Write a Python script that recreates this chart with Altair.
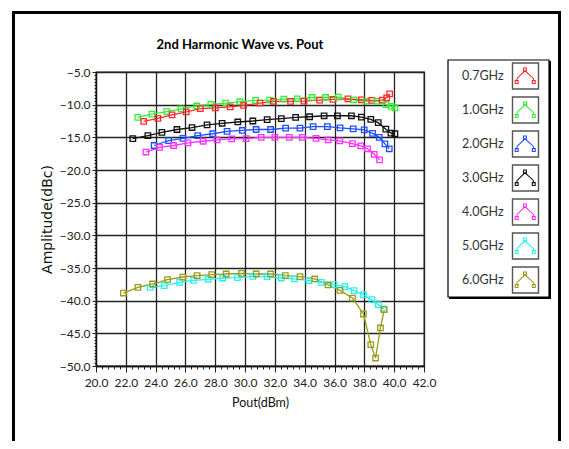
import altair as alt
import pandas as pd

series = ["0.7GHz", "1.0GHz", "2.0GHz", "3.0GHz", "4.0GHz", "5.0GHz", "6.0GHz"]
colors = ["#ff2a2a", "#33ee33", "#1f4fff", "#111111", "#ff30ff", "#22f2f2", "#9a9a1c"]
chart_title = "2nd Harmonic Wave vs. Pout"

x_07 = [23.2, 24.15, 25.1, 26.05, 27.0, 28.0, 29.0, 29.9, 31.0, 31.9, 33.05, 33.95, 35.0, 35.9, 36.9, 37.8, 38.5, 39.2, 39.5, 39.7]
y_07 = [-12.55, -12.1, -11.55, -11.1, -10.6, -10.5, -10.35, -10.1, -9.75, -9.5, -9.5, -9.45, -9.3, -9.2, -9.1, -9.25, -9.35, -9.3, -8.95, -8.35]

x_10 = [22.8, 23.75, 24.75, 25.7, 26.75, 27.7, 28.7, 29.65, 30.7, 31.65, 32.6, 33.5, 34.5, 35.4, 36.25, 37.3, 38.15, 38.85, 39.45, 39.8, 40.05]
y_10 = [-11.95, -11.45, -11.05, -10.65, -10.2, -9.95, -9.75, -9.55, -9.35, -9.3, -9.15, -9.1, -8.9, -8.9, -8.85, -9.25, -9.45, -9.45, -10.0, -10.25, -10.5]

x_20 = [23.9, 24.87, 25.83, 26.82, 27.83, 28.79, 29.82, 30.74, 31.71, 32.72, 33.68, 34.56, 35.52, 36.37, 37.25, 37.99, 38.55, 39.0, 39.38, 39.67]
y_20 = [-16.25, -15.5, -15.15, -14.75, -14.45, -14.1, -13.95, -13.8, -13.8, -13.6, -13.6, -13.35, -13.35, -13.55, -13.7, -13.85, -14.4, -15.0, -16.0, -16.75]

x_30 = [22.47, 23.48, 24.42, 25.43, 26.44, 27.45, 28.46, 29.51, 30.52, 31.48, 32.43, 33.39, 34.33, 35.3, 36.19, 37.13, 37.8, 38.43, 38.93, 39.44, 39.78, 40.05]
y_30 = [-15.2, -14.75, -14.25, -13.8, -13.5, -13.1, -12.85, -12.65, -12.5, -12.3, -12.15, -11.95, -11.85, -11.7, -11.7, -11.7, -11.9, -12.25, -12.75, -13.75, -14.35, -14.45]

x_40 = [23.35, 24.26, 25.2, 26.17, 27.18, 28.12, 29.1, 30.07, 31.08, 32.0, 32.96, 33.84, 34.76, 35.57, 36.35, 37.2, 37.76, 38.21, 38.66, 39.02]
y_40 = [-17.25, -16.55, -16.25, -15.85, -15.6, -15.4, -15.25, -15.2, -15.0, -15.0, -15.0, -15.0, -15.15, -15.4, -15.55, -15.95, -16.3, -16.75, -17.6, -18.45]

x_50 = [23.64, 24.58, 25.61, 26.55, 27.52, 28.5, 29.49, 30.52, 31.48, 32.43, 33.32, 34.29, 35.12, 35.97, 36.69, 37.31, 37.94, 38.5, 38.93, 39.29]
y_50 = [-37.96, -37.7, -37.19, -36.89, -36.73, -36.53, -36.48, -36.28, -36.33, -36.53, -36.68, -36.94, -37.19, -37.55, -37.86, -38.47, -39.13, -39.85, -40.61, -41.28]

x_60 = [21.84, 22.81, 23.79, 24.8, 25.83, 26.78, 27.76, 28.73, 29.76, 30.74, 31.71, 32.7, 33.68, 34.67, 35.56, 36.37, 37.2, 37.94, 38.43, 38.75, 39.08, 39.33]
y_60 = [-38.83, -37.96, -37.45, -36.79, -36.38, -36.17, -36.02, -35.92, -35.82, -35.92, -35.92, -36.17, -36.33, -36.68, -37.6, -38.42, -39.6, -42.04, -46.73, -48.78, -44.18, -41.38]

x_ticks = [round(20 + 0.4 * i, 1) for i in range(56)]
y_ticks = [round(-5 - 0.5 * i, 1) for i in range(91)]

# draw order (bottom to top)
draw = [("6.0GHz", x_60, y_60), ("5.0GHz", x_50, y_50), ("4.0GHz", x_40, y_40),
        ("2.0GHz", x_20, y_20), ("3.0GHz", x_30, y_30), ("1.0GHz", x_10, y_10),
        ("0.7GHz", x_07, y_07)]
rows = []
for k, (name, xs, ys) in enumerate(draw):
    for i, (a, b) in enumerate(zip(xs, ys)):
        rows.append({"series": name, "pout": a, "amp": b, "ord": k, "i": i})
df = pd.DataFrame(rows)
leg_df = pd.DataFrame({"series": series})
one = pd.DataFrame({"t": [chart_title]})

FONT = "Lato"
color_scale = alt.Scale(domain=series, range=colors)

xmaj = "abs(datum.value/2 - round(datum.value/2)) < 0.01"
ymaj = "abs(datum.value/5 - round(datum.value/5)) < 0.01"

x_enc = alt.X(
    "pout:Q",
    scale=alt.Scale(domain=[20, 42], nice=False, zero=False),
    axis=alt.Axis(
        values=x_ticks, title="Pout(dBm)",
        labelExpr=f"{xmaj} ? format(datum.value, '.1f') : ''",
        labelOverlap=False, labelFlush=False, labelBound=False,
        gridOpacity={"condition": {"test": xmaj, "value": 1}, "value": 0},
        tickSize={"condition": {"test": xmaj, "value": 6}, "value": 3},
        labelPadding=5, titlePadding=8,
    ),
)
y_enc = alt.Y(
    "amp:Q",
    scale=alt.Scale(domain=[-50, -5], nice=False, zero=False),
    axis=alt.Axis(
        values=y_ticks, title="Amplitude(dBc)",
        labelExpr=f"{ymaj} ? format(datum.value, '.1f') : ''",
        labelOverlap=False, labelFlush=False, labelBound=False,
        gridOpacity={"condition": {"test": ymaj, "value": 1}, "value": 0},
        tickSize={"condition": {"test": ymaj, "value": 4}, "value": 2},
        labelPadding=2, titlePadding=5,
        titleFont="DejaVu Sans", titleFontSize=14,
    ),
)

base = alt.Chart(df).encode(
    x=x_enc, y=y_enc,
    color=alt.Color("series:N", scale=color_scale, legend=None),
    detail="ord:O", order="i:Q",
)
lines = base.mark_line(strokeWidth=1.3)
pts = base.mark_point(shape="square", size=30, filled=False, strokeWidth=1.3, opacity=1)
main = alt.layer(lines, pts)

frame = alt.Chart(one).mark_rect(fill=None, stroke="black", strokeWidth=3).encode(
    x=alt.value(-82.5), x2=alt.value(463.5), y=alt.value(-59.5), y2=alt.value(400)
)
shadow = alt.Chart(one).mark_rect(fill="black").encode(
    x=alt.value(353), x2=alt.value(455), y=alt.value(-11), y2=alt.value(227)
)
legbox = alt.Chart(one).mark_rect(fill="white", stroke="black", strokeWidth=1.2).encode(
    x=alt.value(352), x2=alt.value(453), y=alt.value(-12), y2=alt.value(225)
)
title_txt = alt.Chart(one).mark_text(font=FONT, fontSize=13, fontWeight="bold", color="black",
                                     align="center", baseline="middle").encode(
    x=alt.value(144), y=alt.value(-27), text="t:N"
)

leg_y = alt.Y("series:N", scale=alt.Scale(type="point", domain=series, range=[4, 208], padding=0), axis=None)
leg_text = alt.Chart(leg_df).mark_text(align="left", baseline="middle", font=FONT, fontSize=12.5, color="#333").encode(
    x=alt.value(366), y=leg_y, text="series:N"
)
leg_sq = alt.Chart(leg_df).mark_square(size=676, fill="white", stroke="#555", strokeWidth=1.4, opacity=1).encode(
    x=alt.value(429.5), y=leg_y
)
icon_path = ("M-0.8,0.42L-0.75,0.2L-0.05,-0.47L0.7,0.2L0.75,0.42"
             "M-0.93,0.42h0.26v0.26h-0.26Z"
             "M-0.18,-0.73h0.26v0.26h-0.26Z"
             "M0.62,0.42h0.26v0.26h-0.26Z")
leg_icon = alt.Chart(leg_df).mark_point(shape=icon_path, size=484, filled=False, strokeWidth=1.1, opacity=1).encode(
    x=alt.value(429.5), y=leg_y,
    color=alt.Color("series:N", scale=color_scale, legend=None),
)
legend = alt.layer(leg_sq, leg_icon, leg_text)

chart = alt.layer(frame, shadow, legbox, title_txt, main, legend).resolve_scale(y="independent").properties(
    width=328, height=294,
    autosize=alt.AutoSizeParams(type="none"),
    padding={"left": 88, "top": 64, "right": 137, "bottom": 75},
    background="white",
).configure_view(stroke="#222", strokeWidth=1.3).configure_axis(
    labelFont=FONT, labelFontSize=12, labelColor="#222",
    titleFont=FONT, titleFontSize=12.5, titleFontWeight="normal", titleColor="#111",
    gridColor="#222", gridWidth=1.3, domainColor="#111", domainWidth=1.3,
    tickColor="#222", tickWidth=1,
)

chart.save("out.html", embed_options={"renderer": "svg", "actions": False})
